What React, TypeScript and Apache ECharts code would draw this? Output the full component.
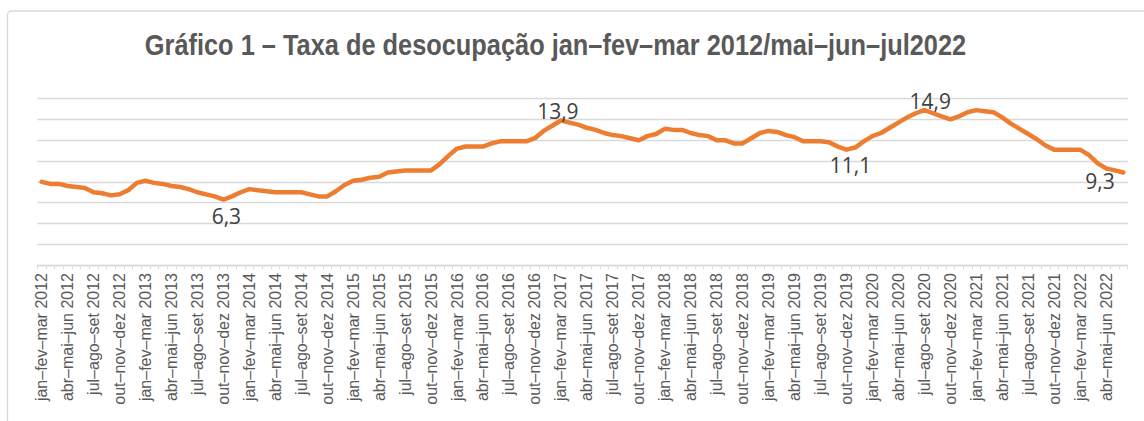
import React, { useEffect, useRef } from "react";
import * as echarts from "echarts";

// Taxa de desocupação (%), trimestres móveis, a partir de jan–fev–mar 2012
const unemploymentRate: number[] = [
  8.0, 7.8, 7.8, 7.6, 7.5, 7.4, 7.0, 6.9, 6.7, 6.8, 7.2, 7.9,
  8.1, 7.9, 7.8, 7.6, 7.5, 7.3, 7.0, 6.8, 6.6, 6.3, 6.6, 7.0,
  7.3, 7.2, 7.1, 7.0, 7.0, 7.0, 7.0, 6.8, 6.6, 6.6, 7.1, 7.7,
  8.1, 8.2, 8.4, 8.5, 8.9, 9.0, 9.1, 9.1, 9.1, 9.1, 9.7, 10.5,
  11.2, 11.4, 11.4, 11.4, 11.7, 11.9, 11.9, 11.9, 11.9, 12.2, 12.9, 13.4,
  13.9, 13.7, 13.5, 13.2, 13.0, 12.7, 12.5, 12.4, 12.2, 12.0, 12.4, 12.6,
  13.1, 13.0, 13.0, 12.7, 12.5, 12.4, 12.0, 12.0, 11.7, 11.7, 12.2, 12.7,
  12.9, 12.8, 12.5, 12.3, 11.9, 11.9, 11.9, 11.8, 11.4, 11.1, 11.3, 11.9,
  12.4, 12.7, 13.2, 13.7, 14.2, 14.6, 14.9, 14.6, 14.3, 14.0, 14.3, 14.7,
  14.9, 14.8, 14.7, 14.2, 13.6, 13.1, 12.6, 12.1, 11.5, 11.1, 11.1, 11.1,
  11.1, 10.6, 9.8, 9.3, 9.1, 8.9,
];

const monthAbbr: string[] = ["jan", "fev", "mar", "abr", "mai", "jun", "jul", "ago", "set", "out", "nov", "dez"];
const firstYear = 2012;

// Labelled points (index in the series) and where the label sits
const labelIndex: number[] = [21, 60, 93, 102, 123];
const labelPosition: string[] = ["bottom", "top", "bottom", "top", "bottom"];

const titleText = "Gráfico 1 – Taxa de desocupação jan–fev–mar 2012/mai–jun–jul2022";

const categories: string[] = unemploymentRate.map((_, i) => {
  const m = i % 12;
  const year = firstYear + Math.floor(i / 12) + (m + 2 >= 12 ? 1 : 0);
  return `${monthAbbr[m]}–${monthAbbr[(m + 1) % 12]}–${monthAbbr[(m + 2) % 12]} ${year}`;
});

const labelTweaks: Record<number, { dx: number; dist: number }> = {
  21: { dx: 3, dist: 5 },
  60: { dx: -3, dist: -2 },
  93: { dx: 4, dist: 4 },
  102: { dx: 6, dist: -2 },
  123: { dx: -6, dist: 1 },
};

export default function App() {
  const ref = useRef<HTMLDivElement>(null);

  useEffect(() => {
    document.body.style.margin = "0";
    if (!ref.current) return;
    const chart = echarts.init(ref.current, null, { renderer: "svg" });

    const seriesData = unemploymentRate.map((v, i) => {
      const k = labelIndex.indexOf(i);
      if (k < 0) return v;
      const t = labelTweaks[i] || { dx: 0, dist: 4 };
      return {
        value: v,
        label: {
          show: true,
          position: labelPosition[k],
          distance: t.dist,
          offset: [t.dx, 0],
        },
      };
    });

    chart.setOption({
      animation: false,
      backgroundColor: "#ffffff",
      grid: { left: 37.3, right: 16.3, top: 98.7, bottom: 156, containLabel: false },
      graphic: [
        {
          type: "rect",
          silent: true,
          shape: { x: 7.5, y: 11, width: 1400, height: 700, r: 4 },
          style: { fill: "none", stroke: "#d9d9d9", lineWidth: 1.3 },
        },
        {
          type: "text",
          silent: true,
          x: 555.5,
          y: 45,
          scaleX: 0.846,
          style: {
            text: titleText,
            fill: "#595959",
            font: "bold 30px 'Liberation Sans', Arial, sans-serif",
            align: "center",
            verticalAlign: "middle",
          },
        },
      ],
      xAxis: {
        type: "category",
        data: categories,
        boundaryGap: true,
        axisLine: { show: true, lineStyle: { color: "#d9d9d9", width: 1.3 } },
        axisTick: { show: true, interval: 0, length: 4, lineStyle: { color: "#d9d9d9", width: 1 } },
        axisLabel: {
          interval: 2,
          rotate: 90,
          margin: 8,
          fontSize: 16,
          fontFamily: "'Liberation Sans', Arial, sans-serif",
          color: "#595959",
        },
      },
      yAxis: {
        type: "value",
        min: 0,
        max: 16,
        interval: 2,
        axisLine: { show: false },
        axisTick: { show: false },
        axisLabel: { show: false },
        splitLine: { show: true, lineStyle: { color: "#d9d9d9", width: 1.3 } },
      },
      series: [
        {
          type: "line",
          data: seriesData,
          symbol: "circle",
          symbolSize: 2,
          showSymbol: true,
          showAllSymbol: true,
          itemStyle: { color: "#ED7D31" },
          lineStyle: { color: "#ED7D31", width: 4.5, join: "round", cap: "round" },
          label: {
            show: false,
            fontSize: 21,
            fontFamily: "'Open Sans', 'Noto Sans', sans-serif",
            color: "#404040",
            formatter: (p: any) => String(p.value).replace(".", ","),
          },
          emphasis: { disabled: true },
        },
      ],
    });

    return () => chart.dispose();
  }, []);

  return <div ref={ref} style={{ width: 1144, height: 421 }} />;
}
